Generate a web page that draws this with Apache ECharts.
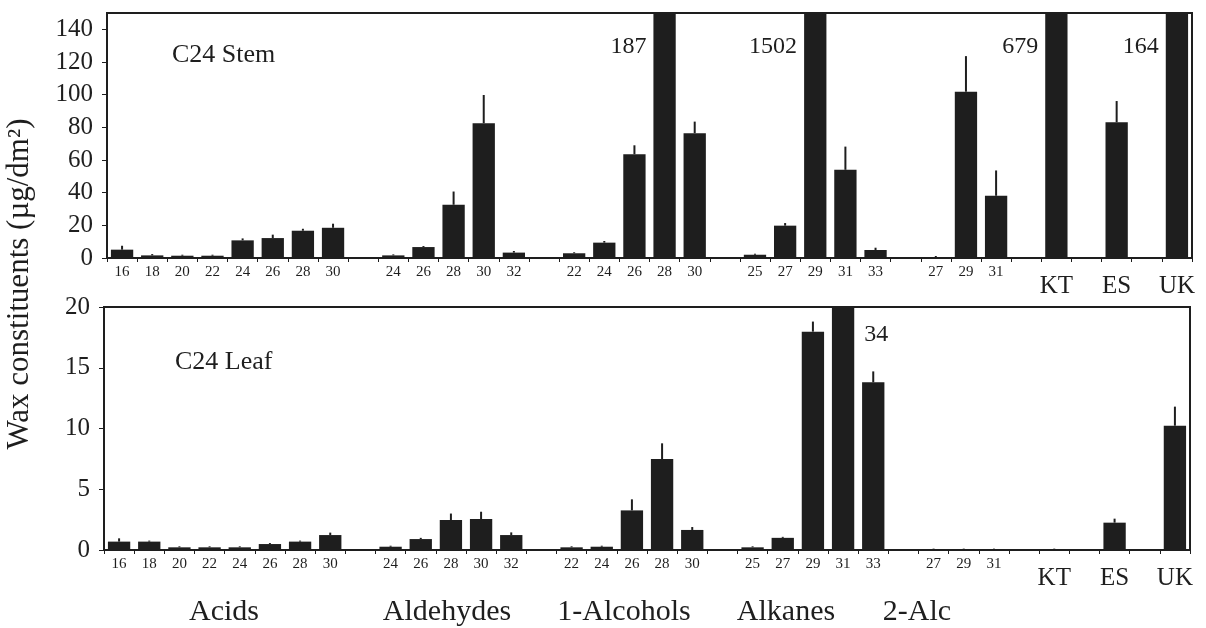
<!DOCTYPE html>
<html>
<head>
<meta charset="utf-8">
<script src="https://cdn.jsdelivr.net/npm/echarts@6/dist/echarts.min.js"></script>
<style>
  html, body { margin: 0; padding: 0; background: #fff; }
  #chart { width: 1206px; height: 628px; }
</style>
</head>
<body>
<div id="chart"></div>
<script>
// ---- categories (gaps between compound classes are empty slots) ----
const tickLabels = ['16','18','20','22','24','26','28','30','',
                    '24','26','28','30','32','',
                    '22','24','26','28','30','',
                    '25','27','29','31','33','',
                    '27','29','31','',
                    'KT','','ES','','UK'];
const bigLabels = ['KT','ES','UK'];
const groupNames = ['Acids','Aldehydes','1-Alcohols','Alkanes','2-Alc'];

// ---- C24 stem (µg/dm²): mean and SD ----
const stemMean = [5.1,1.6,1.4,1.4,10.8,12.2,16.7,18.5,null,
                  1.6,6.7,32.6,82.5,3.3,null,
                  2.9,9.4,63.5,187,76.4,null,
                  2.0,19.8,1502,54,4.9,null,
                  0.6,101.8,38.1,null,
                  679,null,83.1,null,164];
const stemSD   = [2.4,0.8,0,0,1.2,2.1,1.2,2.5,null,
                  0.3,0.5,8.1,17.3,1.0,null,
                  0.3,1.0,5.5,null,7.1,null,
                  0.2,1.6,null,14.2,1.4,null,
                  0.3,21.8,15.5,null,
                  null,null,13.0,null,null];

// ---- C24 leaf (µg/dm²): mean and SD ----
const leafMean = [0.69,0.69,0.22,0.22,0.22,0.49,0.69,1.23,null,
                  0.27,0.9,2.47,2.55,1.23,null,
                  0.22,0.27,3.26,7.49,1.65,null,
                  0.22,1.0,17.97,34,13.8,null,
                  0.03,0.03,0.03,null,
                  0.03,null,2.25,null,10.23];
const leafSD   = [0.27,0,0,0,0,0.06,0,0.2,null,
                  0.03,0.1,0.53,0.6,0.22,null,
                  0.02,0.02,0.91,1.29,0.24,null,
                  0.02,0.05,0.83,null,0.9,null,
                  0.05,0.05,0.05,null,
                  0.05,null,0.33,null,1.57];

const stemMax = 150, leafMax = 20;
const FONT = '"Liberation Serif", "Times New Roman", serif';
const INK = '#1e1e1e';
const categories = tickLabels.map((t, i) => 'c' + i);

const chart = echarts.init(document.getElementById('chart'));

function xAxis(gridIndex) {
  return {
    type: 'category', gridIndex, data: categories,
    axisLine: { lineStyle: { color: INK, width: 2 } },
    axisTick: { show: true, length: 4, lineStyle: { color: INK, width: 1 }, interval: 0 },
    axisLabel: {
      interval: 0, margin: 7, color: INK, fontFamily: FONT,
      formatter: (v, idx) => {
        const t = tickLabels[idx];
        if (!t) return '';
        return bigLabels.includes(t) ? '{b|' + t + '}' : '{s|' + t + '}';
      },
      rich: {
        s: { fontSize: 15, fontFamily: FONT, color: INK },
        b: { fontSize: 25, fontFamily: FONT, color: INK, padding: [9, 0, 0, 0] }
      }
    },
    splitLine: { show: false }
  };
}
function yAxis(gridIndex, max, interval, showMax) {
  return {
    type: 'value', gridIndex, min: 0, max, interval,
    axisLine: { show: true, lineStyle: { color: INK, width: 2 } },
    axisTick: { show: true, length: 5, lineStyle: { color: INK, width: 1 } },
    axisLabel: { fontSize: 25, fontFamily: FONT, color: INK, margin: 14, showMaxLabel: showMax },
    splitLine: { show: false }
  };
}

function barSeries(idx, data) {
  return {
    type: 'bar', xAxisIndex: idx, yAxisIndex: idx, data,
    barWidth: '74%', clip: true,
    itemStyle: { color: INK },
    silent: true, animation: false
  };
}
function errSeries(idx, mean, sd) {
  const d = [];
  mean.forEach((m, i) => { if (m != null && sd[i] != null) d.push([i, m, sd[i]]); });
  return {
    type: 'custom', xAxisIndex: idx, yAxisIndex: idx, data: d, animation: false, silent: true,
    renderItem: (params, api) => {
      const i = api.value(0), m = api.value(1), s = api.value(2);
      const p0 = api.coord([i, m]);
      const p1 = api.coord([i, m + s]);
      return { type: 'line', shape: { x1: p0[0], y1: p0[1], x2: p1[0], y2: Math.min(p1[1], p0[1] - 1) },
               style: { stroke: INK, lineWidth: 2 } };
    }
  };
}
function offscaleLabels(idx, mean, yMax, side, dy) {
  const d = [];
  mean.forEach((m, i) => { if (m != null && m > yMax) d.push([i, m]); });
  return {
    type: 'custom', xAxisIndex: idx, yAxisIndex: idx, data: d, animation: false, silent: true,
    renderItem: (params, api) => {
      const i = api.value(0), v = api.value(1);
      const p = api.coord([i, yMax]);
      const half = api.size([1, 0])[0] * 0.37;
      return {
        type: 'text',
        style: {
          text: String(v),
          x: side === 'left' ? p[0] - half - 7 : p[0] + half + 10,
          y: p[1] + dy,
          align: side === 'left' ? 'right' : 'left',
          verticalAlign: 'middle',
          font: '24px ' + FONT, fill: INK
        }
      };
    }
  };
}

const groupX = [224, 447, 624, 786, 917];

chart.setOption({
  backgroundColor: '#fff',
  animation: false,
  grid: [
    { left: 107, right: 14, top: 13, height: 245, show: true, borderColor: INK, borderWidth: 2, backgroundColor: 'transparent' },
    { left: 104, right: 16, top: 307, height: 243, show: true, borderColor: INK, borderWidth: 2, backgroundColor: 'transparent' }
  ],
  xAxis: [xAxis(0), xAxis(1)],
  yAxis: [yAxis(0, stemMax, 20, false), yAxis(1, leafMax, 5, true)],
  series: [
    barSeries(0, stemMean), errSeries(0, stemMean, stemSD), offscaleLabels(0, stemMean, stemMax, 'left', 34),
    barSeries(1, leafMean), errSeries(1, leafMean, leafSD), offscaleLabels(1, leafMean, leafMax, 'right', 28)
  ],
  graphic: [
    { type: 'text', left: 172, top: 42, style: { text: 'C24 Stem', font: '26px ' + FONT, fill: INK } },
    { type: 'text', left: 175, top: 349, style: { text: 'C24 Leaf', font: '26px ' + FONT, fill: INK } },
    { type: 'text', x: 20, y: 284, rotation: Math.PI / 2,
      style: { text: 'Wax constituents (µg/dm²)', font: '31px ' + FONT, fill: INK, align: 'center', verticalAlign: 'middle' } },
    ...groupNames.map((g, k) => ({
      type: 'text', x: groupX[k], y: 612,
      style: { text: g, font: '30px ' + FONT, fill: INK, align: 'center', verticalAlign: 'middle' }
    }))
  ]
});
</script>
</body>
</html>
